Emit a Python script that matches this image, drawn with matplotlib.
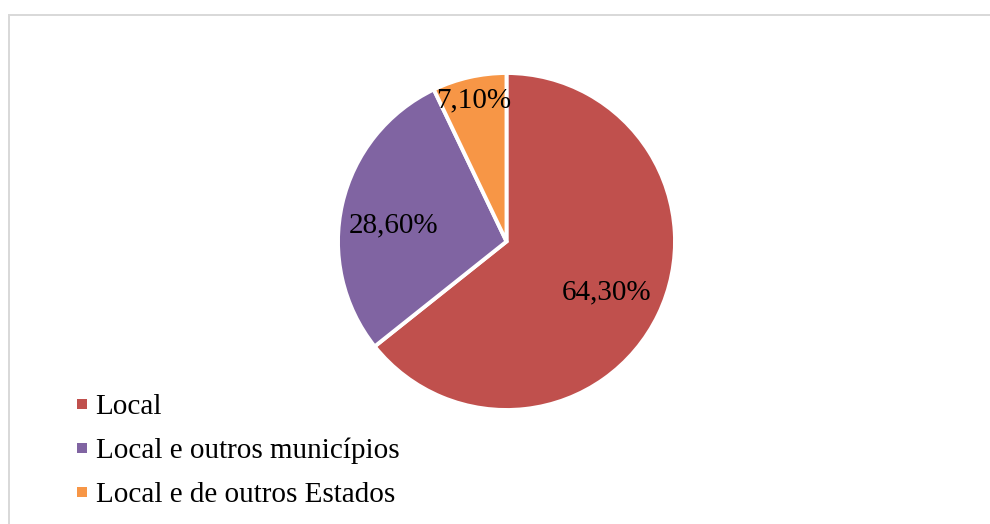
import numpy as np
import matplotlib
matplotlib.use("Agg")
import matplotlib.pyplot as plt
from matplotlib.patches import Rectangle
from matplotlib.lines import Line2D

# Data
categories = ["Local", "Local e outros municípios", "Local e de outros Estados"]
shares = [64.3, 28.6, 7.1]
value_labels = ["64,30%", "28,60%", "7,10%"]
colors = ["#C0504D", "#8064A2", "#F79646"]

# Label placement (radial distance, angular nudge in degrees)
label_dist = [0.66, 0.68, 0.88]
label_nudge = [0.0, 3.5, 0.0]

W, H, DPI = 990, 524, 100
plt.rcParams["font.family"] = ["Liberation Serif", "DejaVu Serif"]
FS = 21

fig = plt.figure(figsize=(W / DPI, H / DPI), dpi=DPI)
fig.patch.set_facecolor("white")

# Chart area border (left and top edges visible)
lw_px = 2
for xs, ys in [([8.5, 8.5], [0, H - 14.5]), ([8.5, W], [H - 14.5, H - 14.5])]:
    fig.add_artist(Line2D([x / W for x in xs], [y / H for y in ys],
                          transform=fig.transFigure, color="#d9d9d9",
                          lw=lw_px * 72 / DPI))

# Pie axes
cx, cy, r = 506.5, 241.5, 168.5
ax = fig.add_axes([(cx - r) / W, (H - cy - r) / H, 2 * r / W, 2 * r / H])
wedges, _ = ax.pie(shares, colors=colors, startangle=90, counterclock=False,
                   radius=1.0,
                   wedgeprops=dict(edgecolor="white", linewidth=2.8))
ax.set_xlim(-1, 1)
ax.set_ylim(-1, 1)
ax.set_aspect("equal")
ax.axis("off")

for w, lab, d, nud in zip(wedges, value_labels, label_dist, label_nudge):
    mid = np.deg2rad((w.theta1 + w.theta2) / 2 + nud)
    ax.text(d * np.cos(mid), d * np.sin(mid), lab, ha="center",
            va="center_baseline", fontsize=FS, color="black")

# Legend
lx, ly0, dy, sq = 76.5, 403.5, 44, 10
for i, (cat, col) in enumerate(zip(categories, colors)):
    yc = ly0 + i * dy
    fig.add_artist(Rectangle((lx / W, (H - yc - sq / 2) / H), sq / W, sq / H,
                             transform=fig.transFigure, facecolor=col,
                             edgecolor="none"))
    fig.text(95.5 / W, (H - yc) / H, cat, ha="left", va="center_baseline",
             fontsize=FS, color="black")

fig.savefig("out.png", dpi=DPI, facecolor="white")
